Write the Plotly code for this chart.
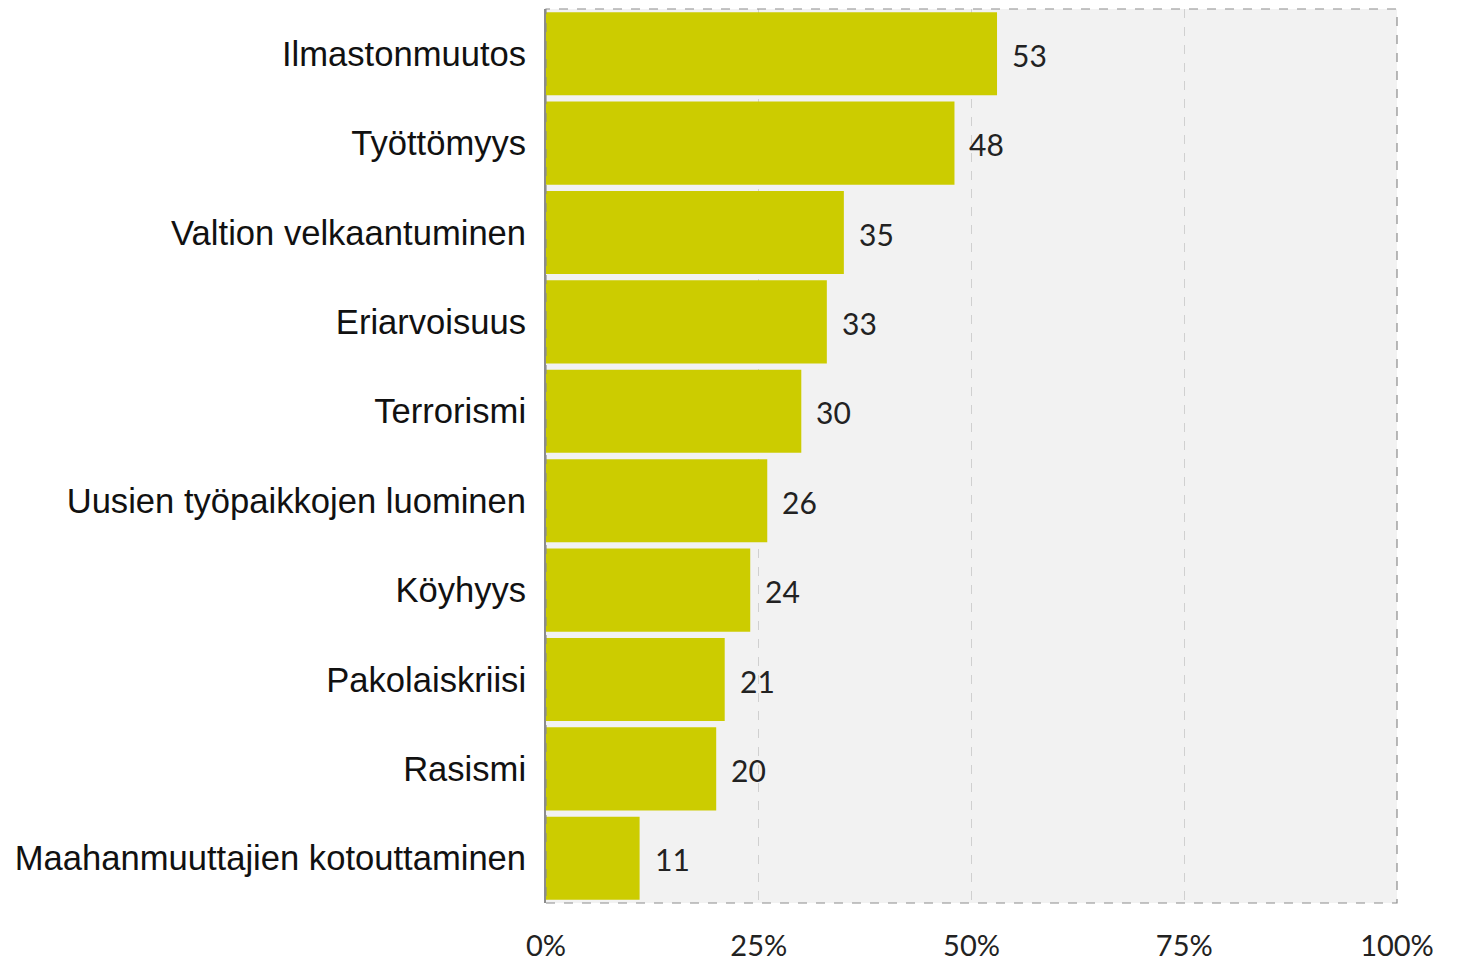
import plotly.graph_objects as go

# Data
categories = [
    "Ilmastonmuutos",
    "Työttömyys",
    "Valtion velkaantuminen",
    "Eriarvoisuus",
    "Terrorismi",
    "Uusien työpaikkojen luominen",
    "Köyhyys",
    "Pakolaiskriisi",
    "Rasismi",
    "Maahanmuuttajien kotouttaminen",
]
values = [53, 48, 35, 33, 30, 26, 24, 21, 20, 11]
tick_values = [0, 25, 50, 75, 100]
tick_labels = ["0%", "25%", "50%", "75%", "100%"]

bar_color = "#cccc00"
num_font = "Lato, 'Open Sans', sans-serif"
cat_font = "'Liberation Sans', Arial, sans-serif"

fig = go.Figure()

fig.add_trace(go.Bar(
    x=values,
    y=categories,
    orientation="h",
    marker=dict(color=bar_color, line=dict(width=0)),
    hoverinfo="x+y",
))

# value labels to the right of each bar
for cat, val in zip(categories, values):
    fig.add_annotation(
        x=val, y=cat, text=str(val),
        xanchor="left", yanchor="middle",
        xshift=13, yshift=-1, showarrow=False,
        font=dict(family=num_font, size=30, color="#222222"),
    )

# dashed frame around the plot area
fig.add_shape(
    type="rect", xref="paper", yref="paper",
    x0=0, x1=1, y0=0, y1=1,
    line=dict(color="#8c8c8c", width=1.2, dash="dash"),
    layer="above",
)

# the page body adds an 8px offset, so the figure is sized to fit the window
fig.update_layout(
    width=1452,
    height=956,
    margin=dict(l=538, r=63, t=1, b=61, autoexpand=False),
    paper_bgcolor="white",
    plot_bgcolor="#f2f2f2",
    bargap=0.07,
    showlegend=False,
    xaxis=dict(
        range=[0, 100],
        tickvals=tick_values,
        ticktext=tick_labels,
        showgrid=True,
        gridcolor="#d0d0d0",
        griddash="dash",
        gridwidth=1,
        zeroline=False,
        showline=False,
        ticks="",
        automargin=False,
        ticklabelstandoff=23,
        tickfont=dict(family=num_font, size=29, color="#222222"),
        fixedrange=True,
    ),
    yaxis=dict(
        autorange="reversed",
        showgrid=False,
        zeroline=False,
        showline=True,
        linecolor="#8c8c8c",
        linewidth=2,
        ticks="",
        automargin=False,
        ticklabelstandoff=11,
        tickfont=dict(family=cat_font, size=34.6, color="#111111"),
        fixedrange=True,
    ),
)

fig.write_html("out.html")
